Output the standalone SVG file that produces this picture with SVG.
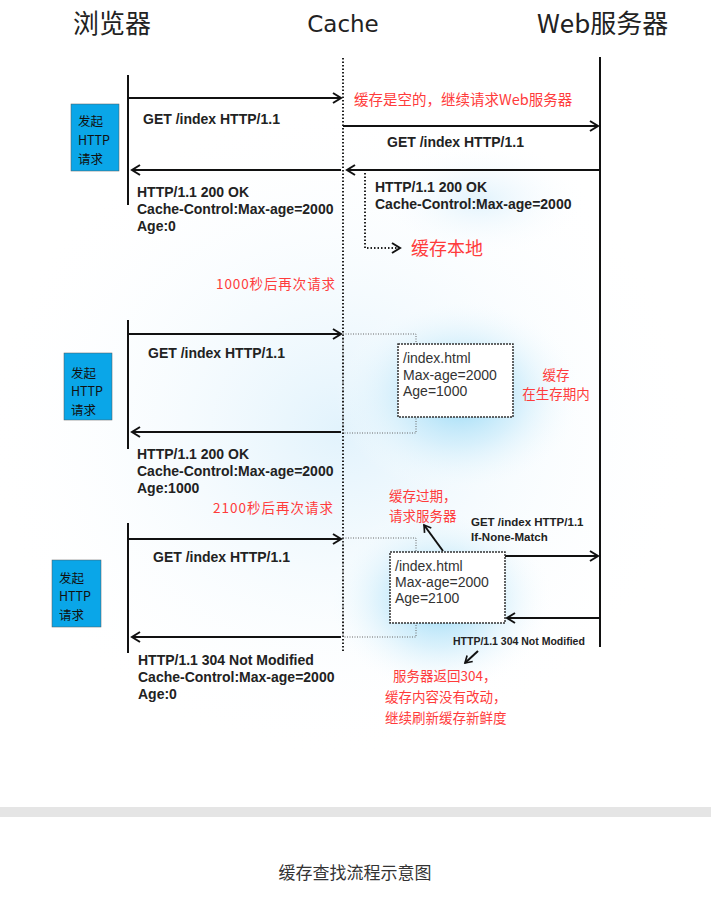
<svg xmlns="http://www.w3.org/2000/svg" width="711" height="897" viewBox="0 0 711 897">
<style>
.hdr{font-family:"Noto Sans CJK SC","Noto Sans",sans-serif;font-size:26px;fill:#222}
.b{font-family:"Liberation Sans",Arial,sans-serif;font-size:14px;font-weight:bold;fill:#222}
.bs{font-family:"Liberation Sans",Arial,sans-serif;font-size:11.5px;font-weight:bold;fill:#222}
.bx{font-family:"Liberation Sans",Arial,sans-serif;font-size:14px;fill:#333}
.red{font-family:"Noto Sans CJK SC",sans-serif;font-size:13.5px;fill:#ff3b3b}
.blt{font-family:"Noto Sans CJK SC","Liberation Sans",sans-serif;font-size:12.5px;fill:#111}
.line{stroke:#111;stroke-width:2;fill:none}
.dot{stroke:#222;stroke-width:2;stroke-dasharray:1.5 2;fill:none}
.thindot{stroke:#666;stroke-width:1;stroke-dasharray:1 1.5;fill:none}
.blue{fill:#0aa6e8;stroke:#555;stroke-width:0.5}
.cbox{fill:#fff;stroke:#333;stroke-width:1.5;stroke-dasharray:2 1}
</style>
<defs>
<marker id="ah" viewBox="0 0 12 12" refX="10" refY="6" markerWidth="12" markerHeight="12" markerUnits="userSpaceOnUse" orient="auto">
<path d="M2,1 L10,6 L2,11" fill="none" stroke="#111" stroke-width="2"/>
</marker>
<marker id="ahs" viewBox="0 0 12 12" refX="10" refY="6" markerWidth="10" markerHeight="10" markerUnits="userSpaceOnUse" orient="auto">
<path d="M2,1 L10,6 L2,11" fill="none" stroke="#111" stroke-width="2"/>
</marker>
<radialGradient id="glow" cx="0.5" cy="0.5" r="0.5">
<stop offset="0" stop-color="#8fd6f5" stop-opacity="1"/>
<stop offset="0.5" stop-color="#c4e9fa" stop-opacity="0.6"/>
<stop offset="1" stop-color="#ffffff" stop-opacity="0"/>
</radialGradient>
<radialGradient id="faint" cx="0.5" cy="0.5" r="0.5">
<stop offset="0" stop-color="#e0f2fc" stop-opacity="0.95"/>
<stop offset="1" stop-color="#ffffff" stop-opacity="0"/>
</radialGradient>
</defs>
<rect width="711" height="897" fill="#fff"/>
<g id="background">
<ellipse cx="340" cy="430" rx="360" ry="330" fill="url(#faint)"/>
<ellipse cx="460" cy="395" rx="125" ry="100" fill="url(#glow)"/>
<ellipse cx="440" cy="600" rx="115" ry="95" fill="url(#glow)"/>
<ellipse cx="480" cy="200" rx="110" ry="60" fill="url(#faint)"/>
<rect x="0" y="807" width="711" height="10" fill="#e5e5e5"/>
</g>
<g id="headers">
<text class="hdr" x="73" y="33">浏览器</text>
<text x="343" y="32" text-anchor="middle" style="font-family:'DejaVu Sans',sans-serif;font-size:23px;fill:#222">Cache</text>
<text class="hdr" x="537" y="33">Web服务器</text>
</g>
<g id="lifelines">
<line class="dot" x1="343" y1="58" x2="343" y2="652"/>
<line class="line" x1="600" y1="57" x2="600" y2="647"/>
<line class="line" x1="128" y1="75" x2="128" y2="205"/>
<line class="line" x1="128" y1="320" x2="128" y2="449"/>
<line class="line" x1="128" y1="523" x2="128" y2="653"/>
</g>
<g id="connectors">
<line class="line" x1="128" y1="98" x2="341" y2="98" marker-end="url(#ah)"/>
<line class="line" x1="341" y1="170" x2="132" y2="170" marker-end="url(#ah)"/>
<line class="line" x1="343" y1="126" x2="598" y2="126" marker-end="url(#ah)"/>
<line class="line" x1="600" y1="170" x2="347" y2="170" marker-end="url(#ah)"/>
<polyline class="dot" points="365,173 365,248 400,248" marker-end="url(#ah)"/>
<line class="line" x1="128" y1="334" x2="341" y2="334" marker-end="url(#ah)"/>
<line class="line" x1="341" y1="432" x2="132" y2="432" marker-end="url(#ah)"/>
<line class="line" x1="128" y1="539" x2="341" y2="539" marker-end="url(#ah)"/>
<line class="line" x1="341" y1="637" x2="132" y2="637" marker-end="url(#ah)"/>
<line class="line" x1="505" y1="556" x2="598" y2="556" marker-end="url(#ah)"/>
<line class="line" x1="600" y1="618" x2="507" y2="618" marker-end="url(#ah)"/>
<line class="line" x1="443" y1="551" x2="424" y2="525" marker-end="url(#ahs)"/>
<line class="line" x1="478" y1="651" x2="465" y2="663" marker-end="url(#ahs)"/>
</g>
<g id="req1">
<rect class="blue" x="71" y="104" width="48" height="67"/>
<text class="blt" x="78" y="126">发起</text>
<text class="blt" x="78" y="145">HTTP</text>
<text class="blt" x="78" y="164">请求</text>
<text class="b" x="143" y="124">GET /index HTTP/1.1</text>
<text class="b" x="137" y="197">HTTP/1.1 200 OK</text>
<text class="b" x="137" y="214">Cache-Control:Max-age=2000</text>
<text class="b" x="137" y="231">Age:0</text>
<text class="red" x="354" y="105" style="font-size:14.5px">缓存是空的，继续请求Web服务器</text>
<text class="b" x="387" y="147">GET /index HTTP/1.1</text>
<text class="b" x="375" y="192">HTTP/1.1 200 OK</text>
<text class="b" x="375" y="209">Cache-Control:Max-age=2000</text>
<text class="red" x="411" y="255" style="font-size:18px">缓存本地</text>
<text class="red" x="216" y="289" style="letter-spacing:0.9px">1000秒后再次请求</text>
</g>
<g id="req2">
<rect class="blue" x="64" y="353" width="48" height="67"/>
<text class="blt" x="71" y="378">发起</text>
<text class="blt" x="71" y="396">HTTP</text>
<text class="blt" x="71" y="415">请求</text>
<text class="b" x="148" y="358">GET /index HTTP/1.1</text>
<text class="b" x="137" y="459">HTTP/1.1 200 OK</text>
<text class="b" x="137" y="476">Cache-Control:Max-age=2000</text>
<text class="b" x="137" y="493">Age:1000</text>
<rect class="thindot" x="343" y="334" width="73" height="99"/>
<rect class="cbox" x="398" y="344" width="115" height="73"/>
<text class="bx" x="403" y="363">/index.html</text>
<text class="bx" x="403" y="380">Max-age=2000</text>
<text class="bx" x="403" y="396">Age=1000</text>
<text class="red" x="556" y="380" text-anchor="middle">缓存</text>
<text class="red" x="556" y="399" text-anchor="middle">在生存期内</text>
<text class="red" x="213" y="513" style="letter-spacing:1px">2100秒后再次请求</text>
</g>
<g id="req3">
<rect class="blue" x="52" y="560" width="49" height="67"/>
<text class="blt" x="59" y="583">发起</text>
<text class="blt" x="59" y="601">HTTP</text>
<text class="blt" x="59" y="620">请求</text>
<text class="b" x="153" y="562">GET /index HTTP/1.1</text>
<text class="b" x="138" y="665">HTTP/1.1 304 Not Modified</text>
<text class="b" x="138" y="682">Cache-Control:Max-age=2000</text>
<text class="b" x="138" y="699">Age:0</text>
<rect class="thindot" x="343" y="538" width="73" height="99"/>
<rect class="cbox" x="390" y="552" width="115" height="71"/>
<text class="bx" x="395" y="571">/index.html</text>
<text class="bx" x="395" y="587">Max-age=2000</text>
<text class="bx" x="395" y="603">Age=2100</text>
<text class="red" x="389" y="501">缓存过期，</text>
<text class="red" x="389" y="521">请求服务器</text>
<text class="bs" x="471" y="526">GET /index HTTP/1.1</text>
<text class="bs" x="471" y="541">If-None-Match</text>
<text class="bs" x="453" y="645" style="font-size:10.5px">HTTP/1.1 304 Not Modified</text>
<text class="red" x="393" y="681">服务器返回304，</text>
<text class="red" x="385" y="702">缓存内容没有改动，</text>
<text class="red" x="385" y="723">继续刷新缓存新鲜度</text>
</g>
<g id="caption">
<text x="355" y="879" text-anchor="middle" style="font-family:'Noto Sans CJK SC',sans-serif;font-size:17px;fill:#333">缓存查找流程示意图</text>
</g>
</svg>
